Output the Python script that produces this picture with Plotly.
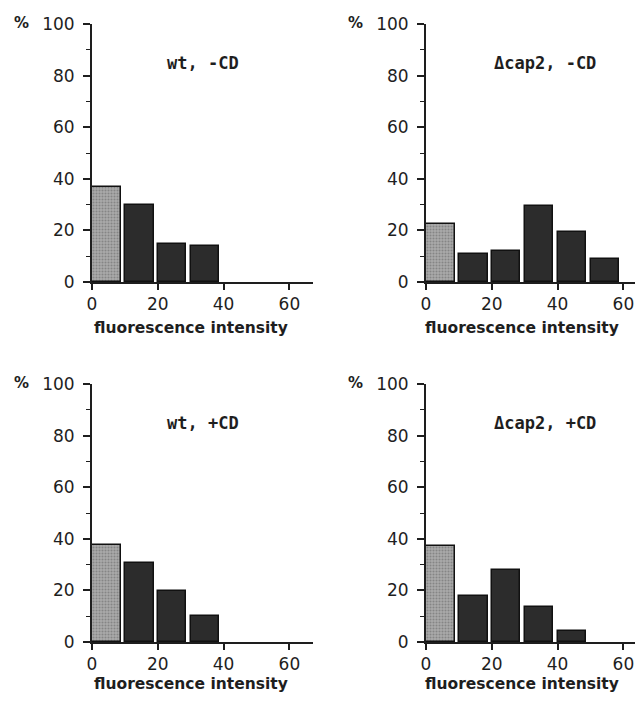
import plotly.graph_objects as go

bins = [0, 10, 20, 30, 40, 50]
wt_minus = [36.7, 29.7, 14.7, 14.1, 0, 0]
cap2_minus = [22.4, 10.7, 12.2, 29.4, 19.4, 8.8]
wt_plus = [37.6, 30.5, 19.7, 10.1, 0, 0]
cap2_plus = [37.1, 17.7, 28.1, 13.6, 4.3, 0]
panel_titles = ["wt, -CD", "\u0394cap2, -CD", "wt, +CD", "\u0394cap2, +CD"]
x_ticks = [0, 20, 40, 60]
y_ticks = [0, 20, 40, 60, 80, 100]
x_label = "fluorescence intensity"
y_label = "%"

W, H = 635, 704
panels = [
    # data, xaxis id, yaxis id, x px (axis, right end), y px (0, 100), label offset
    (wt_minus, "x", "y", 92, 313, 282, 24, 46),
    (cap2_minus, "x2", "y2", 426, 635, 282, 24, 46),
    (wt_plus, "x3", "y3", 92, 313, 642, 384, 42),
    (cap2_plus, "x4", "y4", 426, 635, 642, 384, 42),
]
PX_PER_UNIT = 3.29

fig = go.Figure()
tick_font = dict(family="DejaVu Sans", size=17, color="#1e1e1e")
bold_font = dict(family="DejaVu Sans", size=15.5, color="#1e1e1e")

for i, (vals, xa, ya, x0, x1, y0, y1, loff) in enumerate(panels):
    # gray first bin
    fig.add_trace(go.Bar(
        x=bins[:1], y=vals[:1], xaxis=xa, yaxis=ya, offset=0, width=8.7,
        marker=dict(color="#a0a0a0",
                    line=dict(color="#111111", width=1.5),
                    pattern=dict(shape=".", fgcolor="#606060", bgcolor="#ababab", size=3, solidity=0.4)),
        showlegend=False, hoverinfo="skip"))
    nz = [(b, v) for b, v in zip(bins[1:], vals[1:]) if v > 0]
    fig.add_trace(go.Bar(
        x=[b for b, _ in nz], y=[v for _, v in nz], xaxis=xa, yaxis=ya, offset=0, width=8.7,
        marker=dict(color="#2c2c2c", line=dict(color="#111111", width=1.5)),
        showlegend=False, hoverinfo="skip"))

    sfx = "" if i == 0 else str(i + 1)
    xmax = (x1 - x0) / PX_PER_UNIT
    fig.layout["xaxis" + sfx] = dict(
        domain=[x0 / W, x1 / W], range=[0, xmax], anchor="y" + sfx, automargin=False,
        tickvals=x_ticks, ticks="outside", ticklen=6, tickwidth=1.5, tickcolor="#1e1e1e",
        showline=True, linecolor="#1e1e1e", linewidth=2, showgrid=False, zeroline=False,
        tickfont=tick_font, fixedrange=True)
    fig.layout["yaxis" + sfx] = dict(
        domain=[1 - y0 / H, 1 - y1 / H], range=[0, 100], anchor="x" + sfx, automargin=False,
        tickvals=y_ticks, ticks="outside", ticklen=7, tickwidth=1.5, tickcolor="#1e1e1e",
        minor=dict(ticks="outside", ticklen=4, tickwidth=1, tickcolor="#1e1e1e", dtick=10, tick0=0),
        showline=True, linecolor="#1e1e1e", linewidth=2, showgrid=False, zeroline=False,
        tickfont=tick_font, ticklabelstandoff=5, fixedrange=True)

    # panel title
    fig.add_annotation(x=(x0 + (203 - 92 if x0 < 200 else 545 - 426)) / W, y=1 - (y1 + 39) / H,
                       xref="paper", yref="paper", text="<b>" + panel_titles[i] + "</b>",
                       showarrow=False, font=dict(family="DejaVu Sans Mono", size=17, color="#1e1e1e"),
                       xanchor="center", yanchor="middle")
    # x label
    fig.add_annotation(x=(x0 + (191 - 92 if x0 < 200 else 522 - 426)) / W, y=1 - (y0 + loff) / H,
                       xref="paper", yref="paper", text="<b>" + x_label + "</b>",
                       showarrow=False, font=bold_font, xanchor="center", yanchor="middle")
    # % label
    fig.add_annotation(x=(x0 - 71) / W, y=1 - (y1 - 1) / H,
                       xref="paper", yref="paper", text="<b>" + y_label + "</b>",
                       showarrow=False, font=dict(family="DejaVu Sans", size=15, color="#1e1e1e"),
                       xanchor="center", yanchor="middle")

fig.update_layout(width=W, height=H, margin=dict(l=0, r=0, t=0, b=0, autoexpand=False),
                  paper_bgcolor="white", plot_bgcolor="white", bargap=0)
fig.write_html("out.html")
